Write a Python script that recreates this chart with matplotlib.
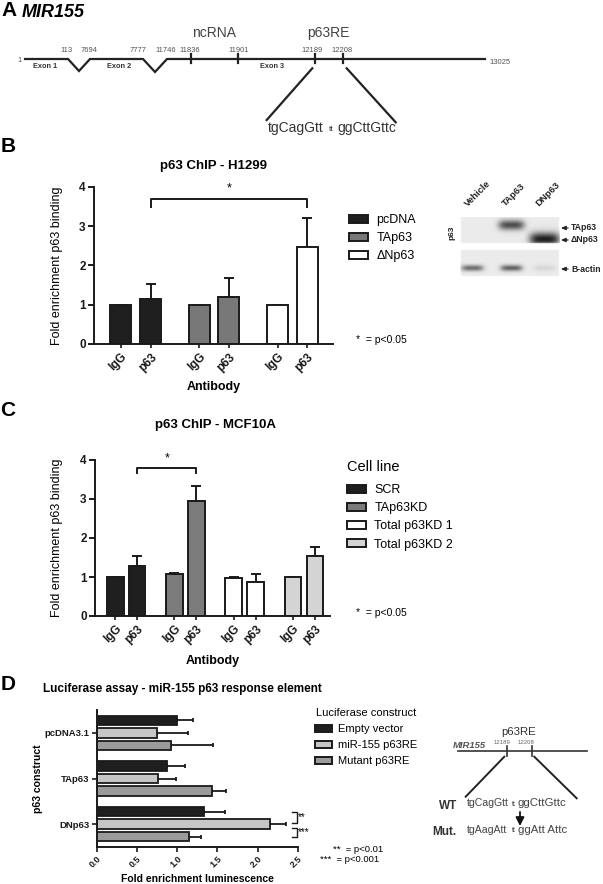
import matplotlib.pyplot as plt
from matplotlib.patches import Patch
import numpy as np

plt.rcParams["font.family"] = ["Liberation Sans", "DejaVu Sans"]
plt.rcParams["axes.linewidth"] = 1.4

# ---------------- data ----------------
# A: MIR155 gene map (labels only, the drawing is a schematic)
gene_numbers = ["113", "7694", "7777", "11746", "11836", "11901", "12189", "12208"]
gene_ends = ["1", "13025"]
exon_names = ["Exon 1", "Exon 2", "Exon 3"]
re_wt = ["tgCagGtt", "tt", "ggCttGttc"]
re_mut = ["tgAagAtt", "tt", "ggAtt Attc"]

# B: p63 ChIP - H1299
b_groups = ["pcDNA", "TAp63", "\u0394Np63"]
b_antibodies = ["IgG", "p63"]
b_mean = [[1.0, 1.15], [1.0, 1.20], [1.0, 2.48]]
b_err = [[0.0, 0.37], [0.0, 0.47], [0.0, 0.72]]
b_colors = ["#1f1f1f", "#787878", "#ffffff"]

# C: p63 ChIP - MCF10A
c_groups = ["SCR", "TAp63KD", "Total p63KD 1", "Total p63KD 2"]
c_mean = [[1.0, 1.27], [1.07, 2.95], [0.97, 0.86], [1.0, 1.54]]
c_err = [[0.0, 0.28], [0.04, 0.38], [0.03, 0.22], [0.01, 0.24]]
c_colors = ["#1f1f1f", "#7b7b7b", "#ffffff", "#d4d4d4"]

# D: luciferase assay
d_constructs = ["pcDNA3.1", "TAp63", "DNp63"]
d_series = ["Empty vector", "miR-155 p63RE", "Mutant p63RE"]
d_mean = [[1.00, 0.88, 1.33], [0.75, 0.76, 2.15], [0.93, 1.43, 1.15]]
d_err = [[0.20, 0.22, 0.26], [0.39, 0.23, 0.20], [0.52, 0.18, 0.15]]
d_colors = ["#1f1f1f", "#c6c6c6", "#9b9b9b"]
d_ticks = [0.0, 0.5, 1.0, 1.5, 2.0, 2.5]

# western blot (band darkness per lane)
blot_lanes = ["Vehicle", "TAp63", "DNp63"]
blot_p63 = [0.0, 0.62, 0.8]
blot_actin = [0.5, 0.55, 0.08]
blot_marks = ["TAp63", "\u0394Np63", "B-actin"]

EDGE = "#1a1a1a"
W, H = 603, 884
fig = plt.figure(figsize=(W / 100, H / 100), dpi=100)


def px_axes(x0, y0, x1, y1):
    return fig.add_axes([x0 / W, 1 - y1 / H, (x1 - x0) / W, (y1 - y0) / H])


def style_axes(ax):
    for s in ("top", "right"):
        ax.spines[s].set_visible(False)
    ax.spines["left"].set_color(EDGE)
    ax.spines["bottom"].set_color(EDGE)


def chip_panel(ax, means, errs, colors, off, width, xlim):
    xs_all, labels = [], []
    for g, (m, e, col) in enumerate(zip(means, errs, colors)):
        xs = [g - off, g + off]
        ax.bar(xs, m, width, color=col, edgecolor=EDGE, linewidth=1.4, zorder=2)
        ax.errorbar(xs, m, yerr=[[0, 0], e], fmt="none", ecolor=EDGE,
                    elinewidth=1.4, capsize=3.3, capthick=1.4, zorder=1)
        xs_all += xs
        labels += b_antibodies
    style_axes(ax)
    ax.set_xlim(*xlim)
    ax.set_ylim(0, 4)
    ax.spines["left"].set_bounds(0, 4)
    ax.set_yticks([0, 1, 2, 3, 4])
    ax.set_xticks(xs_all)
    ax.set_xticklabels(labels, rotation=45, ha="right", rotation_mode="anchor",
                       fontweight="bold", fontsize=8.5)
    for t in ax.get_yticklabels():
        t.set_fontweight("bold")
        t.set_fontsize(8.5)
    ax.tick_params(axis="x", length=3, width=1.2, pad=2, colors=EDGE)
    ax.tick_params(axis="y", length=4, width=1.4, pad=2, colors=EDGE)
    ax.set_facecolor("none")
    return xs_all


def patch_legend(colors, labels, x, y, fs, spacing, pad):
    fig.legend([Patch(facecolor=c, edgecolor=EDGE, linewidth=1.4) for c in colors], labels,
               loc="upper left", bbox_to_anchor=(x / W, 1 - y / H), frameon=False,
               fontsize=fs, borderpad=0, borderaxespad=0, handlelength=1.5,
               handleheight=0.6, handletextpad=pad, labelspacing=spacing)


# ---------------- panel B ----------------
axB = px_axes(94, 187, 333, 344)
xb = chip_panel(axB, b_mean, b_err, b_colors, 0.19, 0.268, (-0.532, 2.517))
axB.plot([xb[1], xb[1], xb[5], xb[5]], [3.5, 3.7, 3.7, 3.5], color=EDGE, lw=1.4)
axB.text((xb[1] + xb[5]) / 2, 3.97, "*", ha="center", va="center", fontsize=9)
axB.set_title("p63 ChIP - H1299", fontsize=9.5, fontweight="bold", y=1.0, pad=13)
axB.set_xlabel("Antibody", fontsize=9, fontweight="bold")
axB.xaxis.set_label_coords(0.5, (344 - 387) / 157)
axB.xaxis.label.set_va("center")
axB.set_ylabel("Fold enrichment p63 binding", fontsize=9)
axB.yaxis.set_label_coords((57 - 94) / 239, 0.5)
axB.yaxis.label.set_va("center")
patch_legend(b_colors, b_groups, 349, 214, 9, 0.5, 0.7)

# ---------------- panel C ----------------
axC = px_axes(95, 460, 330, 616)
xc = chip_panel(axC, c_mean, c_err, c_colors, 0.185, 0.28, (-0.527, 3.44))
axC.plot([xc[1], xc[1], xc[3], xc[3]], [3.66, 3.8, 3.8, 3.66], color=EDGE, lw=1.4)
axC.text((xc[1] + xc[3]) / 2, 4.04, "*", ha="center", va="center", fontsize=9)
axC.set_xlabel("Antibody", fontsize=9, fontweight="bold")
axC.xaxis.set_label_coords(0.5, (616 - 661) / 156)
axC.xaxis.label.set_va("center")
axC.set_ylabel("Fold enrichment p63 binding", fontsize=9)
axC.yaxis.set_label_coords((57 - 95) / 235, 0.5)
axC.yaxis.label.set_va("center")
patch_legend(c_colors, c_groups, 347, 484, 9, 0.5, 0.7)

# ---------------- panel D ----------------
axD = px_axes(96.7, 710, 297.7, 847)
offs = [-0.275, 0.0, 0.275]
yd = np.arange(len(d_constructs))
for k, (m, e, col) in enumerate(zip(d_mean, d_err, d_colors)):
    axD.barh(yd + offs[k], m, 0.205, color=col, edgecolor=EDGE, linewidth=1.3, zorder=2)
    axD.errorbar(m, yd + offs[k], xerr=[np.zeros(len(e)), e], fmt="none", ecolor=EDGE,
                 elinewidth=1.3, capsize=1.6, capthick=1.3, zorder=1)
style_axes(axD)
axD.set_xlim(0, 2.5)
axD.set_ylim(2.5, -0.5)
axD.set_xticks(d_ticks)
axD.set_xticklabels([f"{t:.1f}" for t in d_ticks], rotation=45, ha="right",
                    rotation_mode="anchor", fontweight="bold", fontsize=6.5)
axD.set_yticks(yd)
axD.set_yticklabels(d_constructs, fontweight="bold", fontsize=6.8)
axD.tick_params(axis="both", length=3.5, width=1.2, pad=1.5, colors=EDGE)
axD.set_facecolor("none")
# significance brackets on DNp63
gi = 2
for (y0, y1), lab in zip([(gi + offs[0], gi - 0.02), (gi + 0.08, gi + offs[2])], ["**", "***"]):
    axD.plot([2.43, 2.49, 2.49, 2.43], [y0, y0, y1, y1], color=EDGE, lw=1.0, clip_on=False)
    axD.text(2.505, (y0 + y1) / 2, lab, ha="left", va="center", fontsize=7)
axD.set_xlabel("Fold enrichment luminescence", fontsize=7.5, fontweight="bold")
axD.xaxis.set_label_coords(0.5, (847 - 879) / 137)
axD.xaxis.label.set_va("center")
axD.set_ylabel("p63 construct", fontsize=7.6, fontweight="bold")
axD.yaxis.set_label_coords((38.3 - 96.7) / 201, (847 - 779) / 137)
axD.yaxis.label.set_va("center")
patch_legend(d_colors, d_series, 315, 724.5, 8, 0.53, 0.55)

# ---------------- western blot ----------------
axW = px_axes(460, 216.7, 559.3, 277.3)
bh, bw = 61, 100
rows, cols = np.mgrid[0:bh, 0:bw]
img = np.ones((bh, bw))
img[1:27, 1:99] = 0.92
img[34:60, 1:99] = 0.92
lane_x = [12, 51, 84]
p63_row = [8.5, 8.5, 22.5]
p63_size = [(12, 5.0), (13, 5.0), (15, 6.5)]
for cx, ry, (sx, sy), amp in zip(lane_x, p63_row, p63_size, blot_p63):
    blob = amp * np.exp(-((cols - cx) / sx) ** 4 - ((rows - ry) / sy) ** 2)
    img[0:27] -= blob[0:27]
for cx, amp in zip(lane_x, blot_actin):
    blob = amp * np.exp(-((cols - cx) / 11) ** 4 - ((rows - 51.5) / 3.0) ** 2)
    img[34:] -= blob[34:]
axW.imshow(np.clip(img, 0, 1), cmap="gray", vmin=0, vmax=1, aspect="auto",
           interpolation="bicubic")
axW.axis("off")

# ---------------- overlay: schematic + free text ----------------
ov = fig.add_axes([0, 0, 1, 1])
ov.set_xlim(0, W)
ov.set_ylim(H, 0)
ov.axis("off")
ov.set_facecolor("none")

for lab, x, y in zip("ABCD", [9, 8, 8, 8], [10, 147, 410, 684]):
    ov.text(x, y, lab, ha="center", va="center", fontsize=15, fontweight="bold")

# panel A gene map
ov.text(22, 12.5, "MIR155", fontsize=13, fontweight="bold", style="italic", va="center")
gx = [25, 68, 79, 90, 143, 155, 167, 485]
gy = [59, 59, 71, 59, 59, 72, 59, 59]
ov.plot(gx, gy, color="#222222", lw=1.6, solid_joinstyle="miter")
for x in [191, 238.3, 315, 343.3]:
    ov.plot([x, x], [54.3, 62.5], color="#222222", lw=1.6)
for lab, x in zip(gene_numbers, [66.7, 89.3, 138.3, 165.7, 190, 239, 312.3, 342.3]):
    ov.text(x, 50, lab, ha="center", va="center", fontsize=5.5, color="#555555")
ov.text(19.3, 60.5, gene_ends[0], ha="center", va="center", fontsize=5.5, color="#555555")
ov.text(500, 62, gene_ends[1], ha="center", va="center", fontsize=5.5, color="#555555")
for lab, x in zip(exon_names, [45, 119, 271.7]):
    ov.text(x, 66.7, lab, ha="center", va="center", fontsize=5.3, fontweight="bold", color="#333333")
ov.text(214, 33.3, "ncRNA", ha="center", va="center", fontsize=10, color="#444444")
ov.text(328.3, 33.3, "p63RE", ha="center", va="center", fontsize=10, color="#444444")
ov.plot([312.3, 266.7], [68.3, 120], color="#222222", lw=1.6)
ov.plot([346.7, 395.7], [68.3, 122.3], color="#222222", lw=1.6)
ov.text(268.3, 128.3, re_wt[0], ha="left", va="center", fontsize=10, color="#333333")
ov.text(331, 129.5, re_wt[1], ha="center", va="center", fontsize=6, color="#333333")
ov.text(396, 128.3, re_wt[2], ha="right", va="center", fontsize=10, color="#333333")

# legend titles
ov.text(347, 467, "Cell line", ha="left", va="center", fontsize=10.5)
ov.text(316, 713, "Luciferase construct", ha="left", va="center", fontsize=8)

# p-value notes
ov.text(356, 340, "*  = p<0.05", ha="left", va="center", fontsize=7.5)
ov.text(356, 613, "*  = p<0.05", ha="left", va="center", fontsize=7.5)
ov.text(333, 849, "**  = p<0.01", ha="left", va="center", fontsize=6.8)
ov.text(320, 860, "***  = p<0.001", ha="left", va="center", fontsize=6.8)

# titles
ov.text(215.8, 425, "p63 ChIP - MCF10A", ha="center", va="center", fontsize=9.5, fontweight="bold")
ov.text(43.3, 689, "Luciferase assay - miR-155 p63 response element", ha="left", va="center",
        fontsize=8.5, fontweight="bold")

# blot labels
for lab, x in zip(blot_lanes, [469, 507, 540]):
    ov.text(x, 208, lab, ha="left", va="bottom", rotation=45, rotation_mode="anchor",
            fontsize=6.8, fontweight="bold", color="#222222")
ov.text(451.7, 233, "p63", ha="center", va="center", rotation=90, fontsize=6,
        fontweight="bold", color="#222222")
for lab, y in zip(blot_marks, [228, 240, 269]):
    ov.annotate(lab, xy=(561, y), xytext=(571, y), ha="left", va="center", fontsize=6.2,
                fontweight="bold", color="#222222",
                arrowprops=dict(arrowstyle="-|>,head_length=0.45,head_width=0.2",
                                color="#222222", lw=0.8, shrinkA=0, shrinkB=0))

# panel D schematic
ov.text(519, 731.7, "p63RE", ha="center", va="center", fontsize=8.2, color="#333333")
ov.text(453, 745.7, "MIR155", ha="left", va="center", fontsize=6.8, fontweight="bold",
        style="italic", color="#555555")
ov.text(501.7, 742.3, gene_numbers[6], ha="center", va="center", fontsize=4.3, color="#666666")
ov.text(525.7, 742.3, gene_numbers[7], ha="center", va="center", fontsize=4.3, color="#666666")
ov.plot([458.3, 586.7], [750.7, 750.7], color="#333333", lw=1.2)
for x in [507.3, 532.3]:
    ov.plot([x, x], [746, 756], color="#333333", lw=1.2)
ov.plot([504.3, 465.7], [756.7, 796.7], color="#222222", lw=1.4)
ov.plot([534.3, 576.7], [756.7, 798.3], color="#222222", lw=1.4)
ov.text(448.3, 806, "WT", ha="center", va="center", fontsize=8.5, fontweight="bold", color="#333333")
ov.text(444, 831.7, "Mut.", ha="center", va="center", fontsize=8.5, fontweight="bold", color="#333333")
for seq, y in [(re_wt, 803), (re_mut, 830)]:
    ov.text(466.7, y, seq[0], ha="left", va="center", fontsize=7.6, color="#444444")
    ov.text(513.5, y + 1, seq[1], ha="center", va="center", fontsize=5, color="#444444")
    ov.text(518, y, seq[2], ha="left", va="center", fontsize=8.2, color="#444444")
ov.annotate("", xy=(520, 826), xytext=(520, 812),
            arrowprops=dict(arrowstyle="-|>,head_length=0.5,head_width=0.25",
                            color="#111111", lw=1.3, shrinkA=0, shrinkB=0))

fig.savefig("out.png", dpi=100)
